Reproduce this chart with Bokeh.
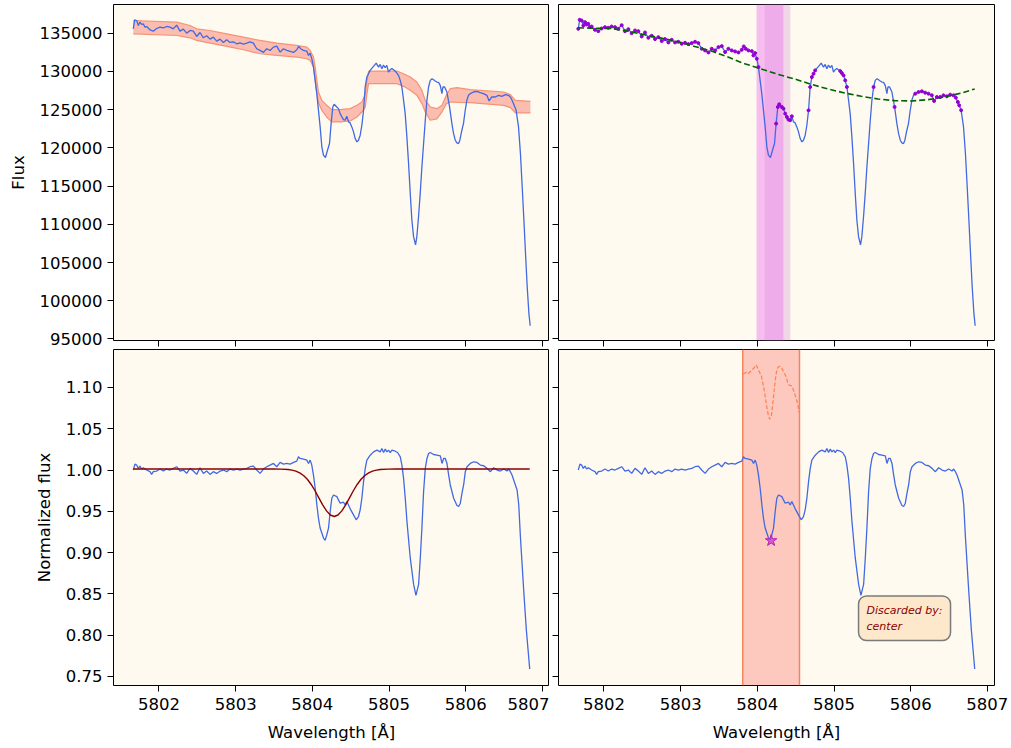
from bokeh.plotting import figure
from bokeh.layouts import column, row
from bokeh.models import Range1d, FixedTicker, PrintfTickFormatter, BoxAnnotation, Span, Label
from bokeh.embed import file_html
from bokeh.resources import INLINE

# ---------------- data ----------------
flux_points = [
    (5801.665, 135570), (5801.683, 136745), (5801.709, 136657), (5801.731, 136005),
    (5801.753, 136440), (5801.774, 136136), (5801.795, 136223), (5801.817, 135787),
    (5801.839, 135874), (5801.882, 135439), (5801.926, 135265), (5801.969, 135613),
    (5802.013, 135787), (5802.057, 135700), (5802.100, 135874), (5802.144, 135787),
    (5802.187, 135570), (5802.231, 136048), (5802.274, 135265), (5802.318, 135526),
    (5802.361, 135004), (5802.405, 135352), (5802.448, 135265), (5802.492, 134569),
    (5802.535, 135091), (5802.579, 134395), (5802.622, 134656), (5802.666, 134221),
    (5802.709, 134482), (5802.753, 133960), (5802.796, 134221), (5802.840, 133786),
    (5802.883, 134134), (5802.927, 133786), (5802.970, 133873), (5803.014, 133613),
    (5803.057, 133743), (5803.101, 133569), (5803.144, 133700), (5803.188, 133873),
    (5803.231, 133700), (5803.275, 132960), (5803.318, 132742), (5803.362, 132481),
    (5803.405, 132960), (5803.449, 132742), (5803.493, 133177), (5803.536, 133307),
    (5803.580, 132525), (5803.623, 132960), (5803.667, 132742), (5803.710, 132612),
    (5803.754, 132481), (5803.797, 132829), (5803.823, 133264), (5803.849, 132960),
    (5803.884, 132742), (5803.928, 132655), (5803.949, 132090), (5803.971, 132394),
    (5803.993, 131655), (5804.015, 130567), (5804.058, 127087), (5804.102, 122738),
    (5804.124, 120127), (5804.145, 119040), (5804.171, 118736), (5804.198, 119692),
    (5804.224, 120563), (5804.245, 123173), (5804.267, 125348), (5804.285, 125696),
    (5804.319, 125348), (5804.341, 125130), (5804.363, 124478), (5804.385, 124043),
    (5804.406, 123695), (5804.428, 123608), (5804.450, 124130), (5804.472, 123391),
    (5804.493, 123260), (5804.515, 122738), (5804.537, 122086), (5804.559, 121215),
    (5804.581, 120780), (5804.602, 120998), (5804.624, 121650), (5804.646, 122955),
    (5804.668, 124913), (5804.689, 127957), (5804.711, 129262), (5804.733, 129697),
    (5804.754, 130132), (5804.798, 130654), (5804.833, 131089), (5804.863, 130567),
    (5804.885, 130915), (5804.907, 130350), (5804.928, 130828), (5804.950, 130480),
    (5804.972, 130785), (5804.993, 129915), (5805.016, 130220), (5805.037, 130393),
    (5805.059, 130220), (5805.081, 130045), (5805.102, 129784), (5805.124, 129480),
    (5805.146, 128827), (5805.168, 127957), (5805.190, 126217), (5805.211, 124478),
    (5805.233, 121432), (5805.255, 117953), (5805.277, 114039), (5805.298, 110559),
    (5805.320, 108384), (5805.346, 107297), (5805.363, 108384), (5805.385, 110993),
    (5805.407, 114039), (5805.429, 117518), (5805.451, 120563), (5805.473, 123608),
    (5805.494, 126217), (5805.516, 127957), (5805.538, 128827), (5805.560, 129045),
    (5805.581, 128914), (5805.603, 128740), (5805.624, 128610), (5805.646, 128566),
    (5805.668, 128175), (5805.690, 127087), (5805.703, 127957), (5805.725, 127957),
    (5805.755, 127305), (5805.790, 125348), (5805.820, 123173), (5805.842, 121868),
    (5805.864, 120998), (5805.885, 120650), (5805.907, 120563), (5805.924, 120998),
    (5805.950, 122303), (5805.971, 123173), (5805.994, 124913), (5806.015, 126217),
    (5806.037, 126870), (5806.059, 127087), (5806.102, 127305), (5806.146, 127391),
    (5806.189, 127217), (5806.232, 127087), (5806.276, 126870), (5806.305, 126130),
    (5806.341, 126652), (5806.385, 126652), (5806.428, 126870), (5806.472, 126739),
    (5806.515, 126957), (5806.558, 126870), (5806.589, 126565), (5806.615, 126000),
    (5806.632, 125566), (5806.658, 124913), (5806.689, 122738), (5806.714, 119258),
    (5806.737, 114908), (5806.759, 110559), (5806.780, 106210), (5806.802, 101860),
    (5806.824, 98380), (5806.841, 96727),
]

norm_points = [
    (5801.665, 1.0000), (5801.687, 1.0072), (5801.709, 1.0060), (5801.730, 1.0020),
    (5801.752, 1.0048), (5801.774, 1.0012), (5801.796, 1.0028), (5801.839, 1.0000),
    (5801.883, 0.9980), (5801.904, 0.9947), (5801.926, 0.9980), (5801.970, 0.9988),
    (5802.013, 1.0012), (5802.057, 0.9988), (5802.100, 1.0012), (5802.144, 1.0000),
    (5802.187, 1.0020), (5802.231, 1.0040), (5802.274, 0.9988), (5802.318, 1.0000),
    (5802.361, 0.9959), (5802.405, 1.0020), (5802.448, 0.9988), (5802.492, 0.9947),
    (5802.535, 1.0028), (5802.579, 0.9959), (5802.622, 0.9988), (5802.666, 0.9947),
    (5802.709, 0.9980), (5802.753, 0.9959), (5802.797, 0.9988), (5802.840, 1.0000),
    (5802.884, 0.9980), (5802.927, 1.0012), (5802.971, 1.0000), (5803.014, 1.0012),
    (5803.058, 1.0000), (5803.101, 1.0012), (5803.145, 1.0020), (5803.188, 1.0040),
    (5803.232, 1.0048), (5803.275, 1.0000), (5803.319, 0.9959), (5803.362, 1.0012),
    (5803.406, 1.0040), (5803.449, 1.0060), (5803.493, 1.0080), (5803.536, 1.0040),
    (5803.580, 1.0092), (5803.623, 1.0072), (5803.667, 1.0080), (5803.710, 1.0072),
    (5803.754, 1.0092), (5803.797, 1.0108), (5803.819, 1.0160), (5803.841, 1.0140),
    (5803.885, 1.0132), (5803.928, 1.0120), (5803.950, 1.0080), (5803.972, 1.0120),
    (5803.993, 1.0060), (5804.015, 0.9939), (5804.037, 0.9779), (5804.059, 0.9578),
    (5804.080, 0.9417), (5804.102, 0.9297), (5804.146, 0.9176), (5804.167, 0.9148),
    (5804.189, 0.9216), (5804.211, 0.9297), (5804.233, 0.9498), (5804.254, 0.9658),
    (5804.276, 0.9698), (5804.320, 0.9678), (5804.341, 0.9638), (5804.363, 0.9598),
    (5804.407, 0.9610), (5804.428, 0.9578), (5804.450, 0.9618), (5804.494, 0.9530),
    (5804.537, 0.9457), (5804.572, 0.9397), (5804.602, 0.9437), (5804.624, 0.9518),
    (5804.646, 0.9658), (5804.668, 0.9859), (5804.690, 1.0020), (5804.711, 1.0120),
    (5804.755, 1.0180), (5804.798, 1.0220), (5804.842, 1.0241), (5804.885, 1.0220),
    (5804.907, 1.0261), (5804.929, 1.0212), (5804.951, 1.0253), (5804.973, 1.0220),
    (5804.994, 1.0241), (5805.016, 1.0212), (5805.038, 1.0241), (5805.081, 1.0228),
    (5805.112, 1.0212), (5805.147, 1.0160), (5805.168, 1.0060), (5805.190, 0.9899),
    (5805.212, 0.9658), (5805.234, 0.9377), (5805.277, 0.8935), (5805.321, 0.8614),
    (5805.351, 0.8481), (5805.386, 0.8614), (5805.408, 0.8935), (5805.429, 0.9297),
    (5805.451, 0.9739), (5805.473, 1.0020), (5805.495, 1.0140), (5805.516, 1.0200),
    (5805.538, 1.0212), (5805.582, 1.0188), (5805.625, 1.0180), (5805.669, 1.0172),
    (5805.691, 1.0080), (5805.712, 1.0140), (5805.734, 1.0140), (5805.756, 1.0080),
    (5805.778, 0.9939), (5805.799, 0.9819), (5805.843, 0.9658), (5805.886, 0.9570),
    (5805.908, 0.9558), (5805.930, 0.9598), (5805.952, 0.9719), (5805.973, 0.9819),
    (5805.995, 0.9980), (5806.017, 1.0040), (5806.060, 1.0080), (5806.104, 1.0100),
    (5806.147, 1.0092), (5806.191, 1.0060), (5806.235, 1.0052), (5806.278, 1.0020),
    (5806.322, 0.9980), (5806.365, 1.0028), (5806.409, 1.0000), (5806.452, 0.9988),
    (5806.496, 1.0012), (5806.539, 0.9988), (5806.561, 1.0012), (5806.583, 0.9980),
    (5806.604, 0.9939), (5806.626, 0.9879), (5806.648, 0.9819), (5806.670, 0.9759),
    (5806.692, 0.9580), (5806.713, 0.9200), (5806.757, 0.8534), (5806.792, 0.8052),
    (5806.822, 0.7730), (5806.835, 0.7590),
]

# continuum uncertainty band: (wavelength, lower, upper)
band_points = [
    (5801.665, 134916, 136656), (5802.231, 134698, 136438), (5802.405, 134394, 136003),
    (5802.492, 134046, 135568), (5802.666, 133698, 135351), (5802.884, 133263, 134916),
    (5803.101, 132828, 134481), (5803.319, 132306, 134046), (5803.536, 132088, 133698),
    (5803.797, 131871, 133393), (5803.928, 131653, 133176), (5803.972, 131436, 132741),
    (5804.015, 130566, 131871), (5804.037, 128826, 130566), (5804.059, 127086, 128826),
    (5804.080, 125900, 127300), (5804.124, 124900, 126216), (5804.189, 124000, 125563),
    (5804.254, 123390, 125000), (5804.363, 123388, 124998), (5804.494, 123519, 125128),
    (5804.581, 124041, 125563), (5804.646, 124693, 125998), (5804.690, 125300, 127000),
    (5804.711, 127000, 128700), (5804.733, 128391, 130000), (5804.755, 128391, 130044),
    (5805.103, 128391, 130044), (5805.190, 128043, 129696), (5805.277, 127521, 129261),
    (5805.364, 126868, 128608), (5805.429, 125781, 127521), (5805.473, 124693, 126216),
    (5805.538, 123606, 125346), (5805.625, 123780, 125128), (5805.691, 124693, 125563),
    (5805.747, 125781, 126868), (5805.799, 125998, 127738), (5805.886, 125955, 127869),
    (5806.060, 125911, 127608), (5806.496, 125563, 127303), (5806.583, 125259, 126955),
    (5806.648, 124563, 126216), (5806.844, 124563, 126086),
]

continuum_points = [
    (5801.661, 135700), (5802.096, 135613), (5802.313, 135265), (5802.530, 134787),
    (5802.748, 134352), (5802.965, 133874), (5803.183, 133264), (5803.400, 132655),
    (5803.617, 131872), (5803.835, 131003), (5804.052, 130306), (5804.270, 129610),
    (5804.487, 129001), (5804.704, 128305), (5804.922, 127696), (5805.139, 127174),
    (5805.356, 126740), (5805.574, 126391), (5805.791, 126174), (5806.009, 126130),
    (5806.226, 126304), (5806.443, 126652), (5806.661, 127174), (5806.835, 127700),
]

# wavelength windows whose spectrum points were used for the continuum fit
cont_windows = [
    (5801.60, 5804.02), (5804.24, 5804.47), (5804.66, 5804.76), (5805.08, 5805.17),
    (5805.50, 5805.52), (5805.76, 5805.80), (5806.04, 5806.66),
]

gauss_points = [
    (5801.665, 1.0012), (5803.485, 1.0012), (5803.585, 1.0011), (5803.685, 1.0006),
    (5803.735, 0.9999), (5803.785, 0.9987), (5803.835, 0.9966), (5803.885, 0.9934),
    (5803.935, 0.9888), (5803.985, 0.9825), (5804.035, 0.9749), (5804.085, 0.9663),
    (5804.135, 0.9578), (5804.185, 0.9505), (5804.235, 0.9455), (5804.285, 0.9437),
    (5804.335, 0.9455), (5804.385, 0.9505), (5804.435, 0.9578), (5804.485, 0.9663),
    (5804.535, 0.9749), (5804.585, 0.9825), (5804.635, 0.9888), (5804.685, 0.9934),
    (5804.735, 0.9966), (5804.785, 0.9987), (5804.835, 0.9999), (5804.885, 1.0006),
    (5804.985, 1.0011), (5805.085, 1.0012), (5806.835, 1.0012),
]

shifted_points = [
    (5803.817, 1.1164), (5803.857, 1.1184), (5803.878, 1.1164), (5803.922, 1.1204),
    (5803.965, 1.1245), (5803.987, 1.1273), (5804.017, 1.1204), (5804.052, 1.1144),
    (5804.087, 1.0984), (5804.117, 1.0803), (5804.139, 1.0682), (5804.161, 1.0614),
    (5804.183, 1.0662), (5804.204, 1.0823), (5804.226, 1.1024), (5804.248, 1.1184),
    (5804.270, 1.1245), (5804.291, 1.1257), (5804.313, 1.1245), (5804.335, 1.1204),
    (5804.357, 1.1164), (5804.378, 1.1124), (5804.400, 1.1044), (5804.422, 1.1024),
    (5804.443, 1.1024), (5804.465, 1.0984), (5804.487, 1.0923), (5804.509, 1.0863),
    (5804.530, 1.0783), (5804.543, 1.0702),
]

line_min_wl = [5804.18]
line_min_flux = [0.9145]
fit_region_a = (5803.99, 5804.34)
fit_region_b = (5804.095, 5804.43)
line_window = (5803.81, 5804.55)
note_text = "Discarded by:\ncenter"
note_pos = (5805.32, 0.8475)

x_ticks = [5802, 5803, 5804, 5805, 5806, 5807]
flux_ticks = [95000, 100000, 105000, 110000, 115000, 120000, 125000, 130000, 135000]
norm_ticks = [0.75, 0.80, 0.85, 0.90, 0.95, 1.00, 1.05, 1.10]

# ---------------- derived columns ----------------
flux_wl = [p[0] for p in flux_points]
flux_val = [p[1] for p in flux_points]
norm_wl = [p[0] for p in norm_points]
norm_val = [p[1] for p in norm_points]
band_wl = [p[0] for p in band_points]
band_lo = [p[1] for p in band_points]
band_hi = [p[2] for p in band_points]
cont_wl = [p[0] for p in continuum_points]
cont_val = [p[1] for p in continuum_points]
gauss_wl = [p[0] for p in gauss_points]
gauss_val = [p[1] for p in gauss_points]
shift_wl = [p[0] for p in shifted_points]
shift_val = [p[1] for p in shifted_points]
in_win = [any(a <= w <= b for a, b in cont_windows) for w in flux_wl]
dot_wl = [w for w, k in zip(flux_wl, in_win) if k]
dot_val = [f for f, k in zip(flux_val, in_win) if k]

# ---------------- styling ----------------
FONT = "DejaVu Sans"
FS = "16.5px"
BG = "#FFFAF0"
FW = 436
BLUE = "royalblue"

x_range = Range1d(5801.407, 5807.093)
top_y = Range1d(94800, 138750)
bot_y = Range1d(0.739, 1.146)


def make(yr, fh, left, right, top, bottom, xlabel, ylabel, yticks, yfmt):
    p = figure(x_range=x_range, y_range=yr, frame_width=FW, frame_height=fh,
               min_border_left=left, min_border_right=right,
               min_border_top=top, min_border_bottom=bottom,
               output_backend="svg", toolbar_location=None,
               background_fill_color=BG, border_fill_color="white",
               outline_line_color="black", outline_line_width=1)
    p.xgrid.visible = False
    p.ygrid.visible = False
    for ax in (p.xaxis[0], p.yaxis[0]):
        ax.axis_line_color = None
        ax.major_tick_in = 0
        ax.major_tick_out = 6
        ax.major_tick_line_color = "black"
        ax.major_tick_line_width = 1
        ax.minor_tick_line_color = None
        ax.major_label_text_font = FONT
        ax.major_label_text_font_size = FS
        ax.major_label_text_color = "black"
        ax.axis_label_text_font = FONT
        ax.axis_label_text_font_size = FS
        ax.axis_label_text_font_style = "normal"
        ax.axis_label_text_color = "black"
    p.xaxis.ticker = FixedTicker(ticks=x_ticks)
    p.xaxis.formatter = PrintfTickFormatter(format="%d")
    p.yaxis.ticker = FixedTicker(ticks=yticks)
    p.yaxis.formatter = PrintfTickFormatter(format=yfmt)
    if xlabel is None:
        p.xaxis.major_label_text_font_size = "0px"
        p.xaxis.major_label_text_color = None
        p.xaxis.major_label_standoff = 0
    else:
        p.xaxis.axis_label = xlabel
        p.xaxis.major_label_standoff = 6
        p.xaxis.axis_label_standoff = 10
    if ylabel is None:
        p.yaxis.major_label_text_font_size = "0px"
        p.yaxis.major_label_text_color = None
        p.yaxis.major_label_standoff = 0
    else:
        p.yaxis.axis_label = ylabel
        p.yaxis.major_label_standoff = 5
        p.yaxis.axis_label_standoff = 9
    return p


TOP_H = 336
BOT_H = 336
p1 = make(top_y, TOP_H, 113, 0, 4, 9, None, "Flux", flux_ticks, "%d")
p2 = make(top_y, TOP_H, 9, 17, 4, 9, None, None, flux_ticks, "%d")
p3 = make(bot_y, BOT_H, 113, 0, 0, 63, "Wavelength [Å]", "Normalized flux", norm_ticks, "%.2f")
p4 = make(bot_y, BOT_H, 9, 17, 0, 63, "Wavelength [Å]", None, norm_ticks, "%.2f")

# --- top left: flux with continuum band ---
p1.varea(x=band_wl, y1=band_lo, y2=band_hi, fill_color="salmon", fill_alpha=0.5)
p1.line(band_wl, band_hi, line_color="#F58B6B", line_width=1.2, line_alpha=0.9)
p1.line(band_wl, band_lo, line_color="#F58B6B", line_width=1.2, line_alpha=0.9)
p1.line(flux_wl, flux_val, line_color=BLUE, line_width=1.3)

# --- top right: flux, continuum points and fit ---
p2.add_layout(BoxAnnotation(left=fit_region_b[0], right=fit_region_b[1], fill_color="plum",
                            fill_alpha=0.4, line_color=None, level="underlay"))
p2.add_layout(BoxAnnotation(left=fit_region_a[0], right=fit_region_a[1], fill_color="violet",
                            fill_alpha=0.5, line_color=None, level="underlay"))
p2.line(flux_wl, flux_val, line_color=BLUE, line_width=1.3)
p2.scatter(dot_wl, dot_val, size=3, color="darkviolet")
p2.line(cont_wl, cont_val, line_color="darkgreen", line_width=1.6, line_dash="6 3")

# --- bottom left: normalized flux and gaussian fit ---
p3.line(norm_wl, norm_val, line_color=BLUE, line_width=1.3)
p3.line(gauss_wl, gauss_val, line_color="darkred", line_width=1.4)

# --- bottom right: line window ---
p4.add_layout(BoxAnnotation(left=line_window[0], right=line_window[1], fill_color="salmon",
                            fill_alpha=0.4, line_color=None, level="underlay"))
for edge in line_window:
    p4.add_layout(Span(location=edge, dimension="height", line_color="#F4845F",
                       line_width=1.5, level="underlay"))
p4.line(norm_wl, norm_val, line_color=BLUE, line_width=1.3)
p4.line(shift_wl, shift_val, line_color="coral", line_width=1.2, line_dash="4 2")
p4.scatter(line_min_wl, line_min_flux, marker="star", size=12,
           fill_color="#D044D0", line_color="#B020B0", fill_alpha=0.8)
p4.add_layout(Label(x=note_pos[0], y=note_pos[1], text=note_text,
                    text_font=FONT, text_font_size="11px", text_font_style="italic",
                    text_color="darkred", text_align="left", text_baseline="top",
                    background_fill_color="#FDE8CB", background_fill_alpha=1.0,
                    border_line_color="#7a7a7a", border_line_width=1.5,
                    padding=8, border_radius=8))

layout = column(row(p1, p2), row(p3, p4))
open("out.html", "w").write(file_html(layout, INLINE))
